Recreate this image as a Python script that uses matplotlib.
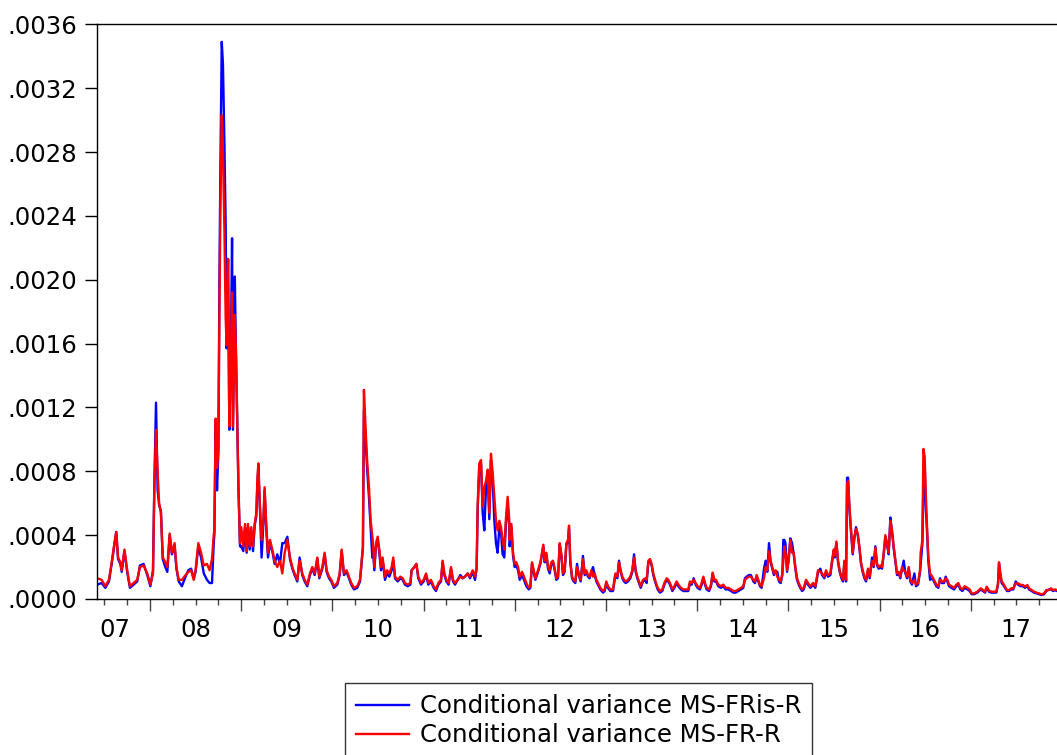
import numpy as np
import matplotlib
matplotlib.use("Agg")
import matplotlib.pyplot as plt
from matplotlib.ticker import FixedLocator, FixedFormatter, NullFormatter
from matplotlib.transforms import blended_transform_factory

plt.rcParams['font.family'] = ['DejaVu Sans']

# ---- data (time in decimal years, conditional variance in units of 1e-4) ----
t = [
 2007.42, 2007.47, 2007.51, 2007.55, 2007.58, 2007.61, 2007.63, 2007.65, 2007.675, 2007.69,
 2007.72, 2007.75, 2007.78, 2007.82, 2007.86, 2007.89, 2007.93, 2007.97, 2008.004, 2008.033,
 2008.048, 2008.066, 2008.084, 2008.10, 2008.12, 2008.14, 2008.168, 2008.19, 2008.216, 2008.24,
 2008.27, 2008.29, 2008.315, 2008.35, 2008.39, 2008.42, 2008.45, 2008.48, 2008.50, 2008.53,
 2008.56, 2008.59, 2008.625, 2008.654, 2008.68, 2008.70,
 2008.706, 2008.72, 2008.735, 2008.75, 2008.761, 2008.772, 2008.787, 2008.80, 2008.816, 2008.83,
 2008.84, 2008.856, 2008.87, 2008.885, 2008.90, 2008.91, 2008.93, 2008.944, 2008.958, 2008.97,
 2008.987,
 2009.001, 2009.023, 2009.042, 2009.06, 2009.075, 2009.093, 2009.111, 2009.13, 2009.148, 2009.166,
 2009.177, 2009.188, 2009.206, 2009.224, 2009.243, 2009.257, 2009.276, 2009.294, 2009.316, 2009.341,
 2009.367, 2009.396, 2009.425, 2009.451, 2009.477, 2009.506, 2009.535, 2009.561, 2009.586, 2009.615,
 2009.641, 2009.67, 2009.696, 2009.725, 2009.754, 2009.78, 2009.806, 2009.835, 2009.857, 2009.89,
 2009.915, 2009.937, 2009.963, 2009.988, 2010.017, 2010.054, 2010.08, 2010.102, 2010.127, 2010.156,
 2010.182, 2010.207, 2010.237, 2010.273, 2010.303, 2010.321, 2010.335, 2010.346, 2010.365, 2010.383,
 2010.401, 2010.42, 2010.438,
 2010.442, 2010.46, 2010.478, 2010.497, 2010.515, 2010.533, 2010.551, 2010.577, 2010.599, 2010.625,
 2010.65, 2010.668, 2010.687, 2010.716, 2010.745, 2010.771, 2010.796, 2010.826, 2010.855, 2010.869,
 2010.899, 2010.921, 2010.942, 2010.972, 2011.001, 2011.027, 2011.052, 2011.081, 2011.111, 2011.136,
 2011.162, 2011.191, 2011.209, 2011.228, 2011.25, 2011.275, 2011.301, 2011.323, 2011.345, 2011.374,
 2011.403, 2011.429, 2011.454, 2011.483, 2011.509, 2011.538, 2011.564, 2011.582, 2011.593, 2011.611,
 2011.63, 2011.648, 2011.666, 2011.685, 2011.703, 2011.721, 2011.739, 2011.758, 2011.776, 2011.794,
 2011.812, 2011.831, 2011.849, 2011.867, 2011.885, 2011.904, 2011.922, 2011.94,
 2011.944, 2011.963, 2011.981, 2011.999, 2012.017, 2012.036, 2012.054, 2012.08, 2012.101, 2012.127,
 2012.153, 2012.171, 2012.189, 2012.207, 2012.226, 2012.255, 2012.281, 2012.299, 2012.313, 2012.328,
 2012.346, 2012.365, 2012.383, 2012.401, 2012.419, 2012.438, 2012.456, 2012.474, 2012.493, 2012.511,
 2012.529, 2012.547, 2012.566, 2012.584, 2012.595, 2012.609, 2012.628, 2012.646, 2012.664, 2012.683,
 2012.701, 2012.723, 2012.748, 2012.767, 2012.785, 2012.803, 2012.821, 2012.84, 2012.858, 2012.876,
 2012.895, 2012.913, 2012.938, 2012.968, 2012.986, 2013.004, 2013.022, 2013.048, 2013.077, 2013.103,
 2013.125, 2013.143, 2013.161, 2013.18, 2013.198, 2013.216, 2013.242, 2013.267, 2013.289, 2013.308,
 2013.326, 2013.344, 2013.362, 2013.381, 2013.406, 2013.432,
 2013.446, 2013.465, 2013.483, 2013.501, 2013.519, 2013.538, 2013.567, 2013.592, 2013.618, 2013.64,
 2013.666, 2013.684, 2013.702, 2013.728, 2013.75, 2013.775, 2013.794, 2013.823, 2013.848, 2013.874,
 2013.903, 2013.921, 2013.94, 2013.962, 2013.984, 2014.005, 2014.031, 2014.049, 2014.068, 2014.086,
 2014.104, 2014.13, 2014.152, 2014.17, 2014.188, 2014.207, 2014.232, 2014.261, 2014.287, 2014.312,
 2014.342, 2014.371, 2014.397, 2014.422, 2014.451, 2014.481, 2014.506, 2014.524, 2014.543, 2014.568,
 2014.59, 2014.616, 2014.634, 2014.652, 2014.671, 2014.689, 2014.707, 2014.733, 2014.751, 2014.769,
 2014.788, 2014.806, 2014.824, 2014.842, 2014.861, 2014.879, 2014.897, 2014.916, 2014.934, 2014.945,
 2014.956,
 2014.968, 2014.986, 2015.004, 2015.022, 2015.041, 2015.059, 2015.077, 2015.095, 2015.121, 2015.15,
 2015.169, 2015.194, 2015.216, 2015.242, 2015.271, 2015.296, 2015.326, 2015.351, 2015.37, 2015.395,
 2015.413, 2015.435, 2015.461, 2015.479, 2015.498, 2015.508, 2015.527, 2015.545, 2015.563, 2015.582,
 2015.6, 2015.614, 2015.633, 2015.644, 2015.655, 2015.67, 2015.688, 2015.706, 2015.724, 2015.742,
 2015.761, 2015.779, 2015.797, 2015.815, 2015.834, 2015.852, 2015.874, 2015.892, 2015.918, 2015.936,
 2015.954, 2015.973, 2015.991, 2016.009, 2016.027, 2016.046, 2016.064, 2016.082, 2016.1, 2016.119,
 2016.137, 2016.155, 2016.174, 2016.192, 2016.21, 2016.228, 2016.247, 2016.265, 2016.283, 2016.302,
 2016.32, 2016.338, 2016.356, 2016.382, 2016.4, 2016.422, 2016.444,
 2016.451, 2016.470, 2016.481, 2016.495, 2016.506, 2016.521, 2016.535, 2016.554, 2016.579, 2016.597,
 2016.623, 2016.645, 2016.663, 2016.682, 2016.707, 2016.725, 2016.744, 2016.762, 2016.788, 2016.817,
 2016.842, 2016.864, 2016.886, 2016.908, 2016.934, 2016.963, 2016.989, 2017.01, 2017.036, 2017.073,
 2017.091, 2017.109, 2017.135, 2017.157, 2017.175, 2017.201, 2017.23, 2017.255, 2017.281, 2017.299,
 2017.31, 2017.325, 2017.339, 2017.354, 2017.376, 2017.398, 2017.42, 2017.445, 2017.467, 2017.493,
 2017.519, 2017.548, 2017.573, 2017.595, 2017.621, 2017.639, 2017.668, 2017.694, 2017.72, 2017.749,
 2017.778, 2017.804, 2017.829, 2017.858, 2017.88, 2017.902, 2017.924, 2017.946,
]

ms_fr_r = [  # red series, x 1e-4
 1.3, 1.2, 0.8, 1.2, 2.3, 3.5, 4.2, 2.6, 2.3, 1.8,
 3.1, 1.8, 0.8, 1.0, 1.2, 2.0, 2.1, 1.6, 0.9, 1.6,
 7.0, 10.6, 7.9, 6.0, 5.4, 2.6, 2.3, 2.0, 4.1, 2.9,
 3.5, 2.0, 1.2, 1.2, 1.5, 1.7, 1.8, 1.2, 1.8, 3.5,
 2.9, 2.1, 2.2, 1.8, 2.5, 4.1,
 4.2, 11.3, 8.2, 9.4, 17.6, 24.6, 30.3, 28.1, 23.2, 17.6,
 15.9, 21.3, 10.8, 14.5, 19.2, 10.8, 17.8, 15.2, 10.6, 7.0,
 3.5,
 4.5, 3.3, 4.7, 3.0, 4.7, 3.3, 4.5, 3.3, 4.7, 5.4,
 7.4, 8.5, 5.8, 3.7, 4.9, 7.0, 4.5, 2.9, 3.7, 3.1,
 2.4, 2.0, 2.4, 1.6, 2.9, 3.7, 2.6, 2.0, 1.6, 1.2,
 2.4, 1.6, 1.2, 0.9, 1.6, 2.0, 1.6, 2.6, 1.4, 2.0,
 2.9, 1.8, 1.4, 1.2, 0.8, 1.0, 1.6, 3.1, 1.6, 1.8,
 1.4, 1.0, 0.7, 0.8, 1.2, 2.4, 3.3, 13.1, 10.6, 8.5,
 7.0, 4.9, 3.9,
 3.7, 2.0, 3.5, 3.9, 3.1, 2.0, 2.6, 1.4, 1.8, 1.6,
 2.0, 2.6, 1.4, 1.2, 1.4, 1.3, 1.0, 0.9, 1.0, 1.8,
 2.0, 2.2, 1.4, 1.0, 1.2, 1.6, 1.0, 1.2, 0.8, 0.6,
 1.0, 1.2, 2.4, 1.6, 1.2, 1.0, 2.0, 1.2, 1.0, 1.2,
 1.4, 1.3, 1.4, 1.6, 1.4, 1.8, 1.4, 2.0, 5.8, 8.5,
 8.7, 5.8, 7.0, 7.4, 8.1, 5.4, 9.1, 7.9, 6.4, 4.9,
 4.3, 4.9, 4.5, 3.7, 3.1, 5.1, 6.4, 4.9,
 3.7, 4.7, 2.9, 2.2, 2.3, 2.0, 1.4, 1.7, 1.4, 1.0,
 0.7, 0.8, 2.3, 1.8, 1.3, 1.8, 2.3, 2.9, 3.4, 2.4,
 2.9, 2.0, 1.8, 2.3, 2.4, 1.9, 1.3, 1.4, 3.5, 2.8,
 1.6, 1.8, 3.5, 3.7, 4.6, 2.4, 1.4, 1.2, 1.1, 2.0,
 1.6, 1.2, 2.5, 1.6, 1.8, 1.5, 1.4, 1.8, 1.4, 1.6,
 1.2, 1.0, 0.7, 0.5, 0.6, 1.1, 0.8, 0.6, 0.6, 1.6,
 1.4, 2.3, 1.8, 1.4, 1.2, 1.1, 1.2, 1.4, 1.8, 2.6,
 1.8, 1.4, 1.1, 0.8, 1.2, 1.3,
 1.2, 2.4, 2.5, 2.2, 1.6, 1.2, 0.7, 0.5, 0.6, 1.0,
 1.3, 1.2, 1.0, 0.6, 0.8, 1.1, 0.9, 0.7, 0.6, 0.6,
 0.6, 1.1, 1.0, 1.2, 1.0, 0.8, 0.7, 1.0, 1.4, 1.0,
 0.7, 0.6, 0.9, 1.65, 1.2, 1.2, 0.9, 0.8, 0.9, 0.7,
 0.7, 0.6, 0.5, 0.5, 0.6, 0.7, 0.8, 1.2, 1.3, 1.4,
 1.4, 1.2, 1.1, 1.5, 1.2, 0.9, 0.8, 1.3, 2.0, 1.8,
 3.0, 2.4, 2.0, 1.6, 1.8, 1.4, 1.2, 1.1, 1.6, 2.4,
 3.3,
 2.9, 1.8, 2.4, 3.7, 2.9, 2.9, 2.0, 1.3, 0.9, 0.6,
 0.7, 1.2, 1.0, 0.8, 1.0, 0.8, 1.8, 1.7, 1.6, 1.4,
 1.8, 1.5, 1.6, 2.4, 3.1, 2.7, 3.6, 2.4, 1.8, 1.4,
 1.2, 2.4, 1.2, 7.2, 7.4, 5.8, 4.3, 2.9, 3.9, 4.4,
 4.1, 3.3, 2.3, 1.8, 1.4, 1.2, 1.9, 1.4, 2.4, 2.1,
 3.2, 2.2, 2.0, 2.1, 2.0, 2.9, 4.0, 3.5, 2.9, 4.9,
 4.3, 3.3, 2.4, 1.6, 1.7, 1.4, 2.0, 1.8, 1.7, 1.4,
 2.0, 1.2, 1.0, 1.2, 0.9, 1.0, 1.8,
 2.9, 3.7, 9.4, 8.9, 6.8, 4.5, 2.6, 1.6, 1.4, 1.2,
 0.9, 0.8, 1.2, 1.1, 1.1, 1.3, 1.2, 0.9, 0.8, 0.7,
 0.9, 1.0, 0.7, 0.6, 0.8, 0.7, 0.6, 0.35, 0.35, 0.46,
 0.56, 0.67, 0.56, 0.46, 0.77, 0.52, 0.46, 0.46, 0.46, 0.98,
 2.3, 1.6, 1.1, 1.0, 0.77, 0.56, 0.56, 0.67, 0.67, 0.98,
 0.98, 0.88, 0.88, 0.77, 0.88, 0.67, 0.56, 0.46, 0.40, 0.35,
 0.29, 0.35, 0.56, 0.56, 0.67, 0.56, 0.60, 0.56,
]

ms_fris_r = [  # blue series, x 1e-4
 0.9, 1.0, 0.7, 1.1, 2.2, 3.4, 4.2, 2.5, 2.2, 1.7,
 3.0, 1.7, 0.7, 0.9, 1.1, 2.1, 2.2, 1.5, 0.8, 1.8,
 7.2, 12.3, 6.8, 5.9, 5.5, 2.5, 2.0, 1.7, 4.0, 2.8,
 3.3, 1.9, 1.1, 0.8, 1.4, 1.8, 1.9, 1.3, 1.7, 3.3,
 2.6, 1.6, 1.2, 1.0, 1.0, 3.6,
 4.0, 11.1, 6.8, 9.2, 19.7, 27.0, 34.9, 33.5, 28.6, 23.4,
 15.7, 21.3, 10.6, 14.5, 22.6, 10.6, 20.2, 15.0, 10.6, 7.0,
 3.3,
 3.3, 3.0, 4.5, 2.9, 4.5, 3.1, 4.3, 3.0, 4.6, 5.2,
 7.0, 8.3, 5.6, 2.6, 4.7, 6.8, 4.3, 2.6, 3.5, 3.0,
 2.2, 2.8, 2.2, 3.5, 3.5, 3.9, 2.5, 1.9, 1.5, 1.1,
 2.6, 1.5, 1.1, 0.8, 1.5, 1.9, 1.5, 2.5, 1.3, 1.9,
 2.8, 1.7, 1.3, 1.1, 0.7, 0.9, 1.5, 3.0, 1.5, 1.7,
 1.3, 0.9, 0.6, 0.7, 1.1, 2.3, 3.2, 11.8, 9.8, 8.0,
 6.4, 4.5, 2.6,
 3.5, 1.8, 3.3, 3.7, 2.9, 1.8, 2.4, 1.2, 1.6, 1.4,
 1.8, 2.4, 1.3, 1.1, 1.3, 1.2, 0.9, 0.8, 0.9, 1.8,
 2.0, 2.2, 1.3, 0.9, 1.1, 1.5, 0.9, 1.1, 0.7, 0.5,
 0.9, 1.1, 2.3, 1.5, 1.1, 0.9, 1.9, 1.1, 0.9, 1.2,
 1.5, 1.3, 1.4, 1.6, 1.3, 1.7, 1.2, 1.9, 5.6, 8.3,
 8.5, 5.4, 4.3, 7.0, 7.7, 5.0, 8.7, 7.4, 4.9, 3.5,
 2.9, 4.5, 4.2, 2.8, 2.6, 4.8, 6.0, 4.5,
 3.3, 4.5, 2.7, 2.0, 2.1, 1.8, 1.2, 1.5, 1.2, 0.8,
 0.6, 0.7, 2.2, 1.7, 1.2, 1.7, 2.2, 2.8, 3.3, 2.3,
 2.8, 1.9, 1.6, 2.2, 2.3, 1.8, 1.2, 1.3, 3.4, 2.7,
 1.5, 1.7, 3.4, 3.6, 4.4, 2.3, 1.3, 1.1, 1.0, 2.2,
 1.5, 1.1, 2.7, 1.5, 1.7, 1.4, 1.3, 1.7, 2.0, 1.5,
 1.1, 0.9, 0.6, 0.4, 0.5, 1.0, 0.7, 0.5, 0.5, 1.5,
 1.3, 2.4, 1.7, 1.3, 1.1, 1.0, 1.1, 1.3, 1.7, 2.8,
 1.7, 1.3, 1.0, 0.7, 1.1, 1.2,
 1.0, 2.3, 2.4, 2.1, 1.5, 1.1, 0.6, 0.4, 0.5, 0.9,
 1.2, 1.1, 0.9, 0.5, 0.7, 1.0, 0.8, 0.6, 0.5, 0.5,
 0.5, 1.0, 0.9, 1.3, 0.9, 0.7, 0.6, 0.9, 1.3, 0.9,
 0.6, 0.5, 0.8, 1.6, 1.1, 1.1, 0.8, 0.7, 0.8, 0.6,
 0.6, 0.5, 0.4, 0.4, 0.5, 0.6, 0.7, 1.3, 1.4, 1.5,
 1.5, 1.1, 1.0, 1.4, 1.1, 0.8, 0.7, 1.9, 2.4, 1.7,
 3.5, 2.3, 1.9, 1.5, 1.7, 1.7, 1.1, 1.0, 1.5, 3.7,
 3.7,
 3.5, 1.7, 2.6, 3.8, 3.5, 2.8, 1.9, 1.2, 0.8, 0.5,
 0.6, 1.1, 0.9, 0.7, 0.9, 0.7, 1.7, 1.9, 1.5, 1.3,
 1.7, 1.4, 1.5, 2.3, 3.0, 2.6, 3.5, 2.3, 1.7, 1.3,
 1.1, 2.3, 1.1, 7.6, 7.6, 5.6, 4.1, 2.8, 3.8, 4.5,
 4.0, 3.2, 2.2, 1.7, 1.3, 1.1, 1.8, 1.3, 2.6, 2.0,
 3.3, 2.1, 1.9, 2.0, 1.9, 2.8, 3.9, 3.4, 2.8, 5.1,
 4.2, 3.2, 2.3, 1.5, 1.6, 1.3, 1.9, 2.4, 1.6, 1.3,
 1.9, 1.1, 0.9, 1.6, 0.8, 0.9, 1.7,
 2.2, 3.5, 7.2, 8.5, 5.8, 4.2, 2.4, 1.2, 1.3, 1.1,
 0.8, 0.7, 1.3, 1.0, 1.0, 1.4, 1.1, 0.8, 0.7, 0.6,
 0.8, 0.9, 0.6, 0.5, 0.7, 0.6, 0.5, 0.3, 0.3, 0.4,
 0.5, 0.6, 0.5, 0.4, 0.7, 0.45, 0.4, 0.4, 0.4, 0.9,
 2.2, 1.5, 1.0, 0.9, 0.7, 0.5, 0.5, 0.6, 0.6, 1.1,
 0.9, 0.8, 0.8, 0.7, 0.8, 0.6, 0.5, 0.4, 0.35, 0.3,
 0.25, 0.3, 0.5, 0.6, 0.6, 0.5, 0.55, 0.5,
]

year_labels = ["07", "08", "09", "10", "11", "12", "13", "14", "15", "16", "17"]
label_years = [2007.62, 2008.5, 2009.5, 2010.5, 2011.5, 2012.5, 2013.5, 2014.5, 2015.5, 2016.5, 2017.5]
y_ticks = [0.0, 0.0004, 0.0008, 0.0012, 0.0016, 0.0020, 0.0024, 0.0028, 0.0032, 0.0036]
y_tick_labels = [".0000", ".0004", ".0008", ".0012", ".0016", ".0020", ".0024", ".0028", ".0032", ".0036"]
series_names = ["Conditional variance MS-FRis-R", "Conditional variance MS-FR-R"]

# ---- figure ----
W, H = 1057, 755
FS = 17.6
fig = plt.figure(figsize=(W / 100, H / 100), dpi=100)
ax = fig.add_axes([97 / W, 1 - 599 / H, 960 / W, (599 - 24.3) / H])

tt = np.array(t)
blue = np.array(ms_fris_r) * 1e-4
red = np.array(ms_fr_r) * 1e-4
lb, = ax.plot(tt, blue, color="#0000ff", lw=1.7, label=series_names[0])
lr, = ax.plot(tt, red, color="#ff0000", lw=1.7, label=series_names[1])

ax.set_xlim(2007.419, 2017.946)
ax.set_ylim(0, 0.0036)

ax.spines['right'].set_visible(False)
for s in ['left', 'top', 'bottom']:
    ax.spines[s].set_linewidth(1.0)

ax.yaxis.set_major_locator(FixedLocator(y_ticks))
ax.yaxis.set_major_formatter(FixedFormatter(y_tick_labels))
ax.tick_params(axis='y', which='major', direction='out', length=8.6, width=1.0,
               labelsize=FS, pad=6.0)

years = list(range(2008, 2018))
quarters = [y + q for y in range(2007, 2018) for q in (0.25, 0.5, 0.75)]
ax.xaxis.set_major_locator(FixedLocator(years))
ax.xaxis.set_major_formatter(NullFormatter())
ax.xaxis.set_minor_locator(FixedLocator(quarters))
ax.xaxis.set_minor_formatter(NullFormatter())
ax.tick_params(axis='x', which='major', direction='out', length=8.6, width=1.0, color='#444444')
ax.tick_params(axis='x', which='minor', direction='out', length=4.3, width=1.0, color='#444444')

trans = blended_transform_factory(ax.transData, ax.transAxes)
for lab, yr in zip(year_labels, label_years):
    ax.text(yr, -0.0535, lab, transform=trans, ha='center', va='center', fontsize=FS)

leg = fig.legend(handles=[lb, lr], loc='upper center', bbox_to_anchor=(578.5 / W, 1 - 683.3 / H),
                 borderaxespad=0, fontsize=FS, frameon=True, fancybox=False,
                 edgecolor='black', handlelength=2.15, handletextpad=0.45,
                 borderpad=0.45, labelspacing=0.2)
leg.get_frame().set_linewidth(1.0)
for line in leg.get_lines():
    line.set_linewidth(1.7)

fig.savefig("out.png", dpi=100)
